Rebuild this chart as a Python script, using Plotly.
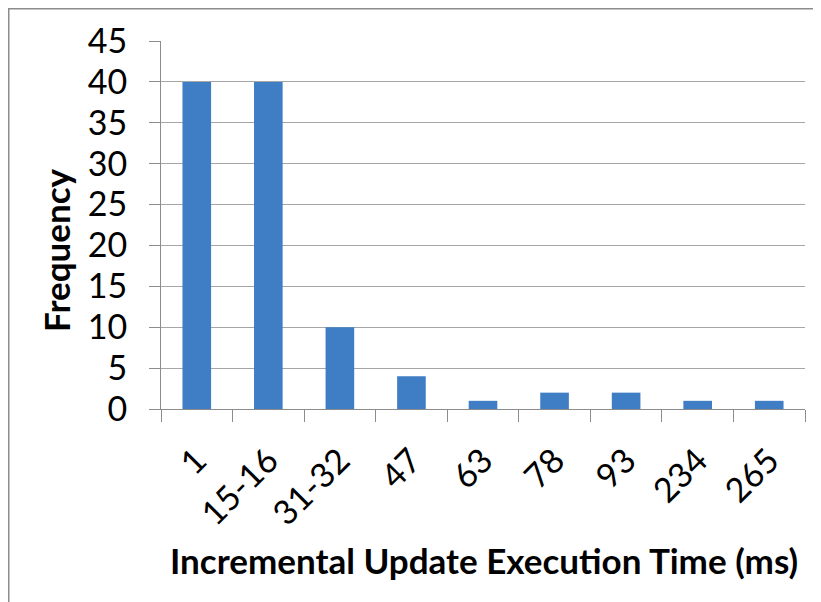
import plotly.graph_objects as go

categories = ["1", "15-16", "31-32", "47", "63", "78", "93", "234", "265"]
frequency = [40, 40, 10, 4, 1, 2, 2, 1, 1]
y_ticks = [0, 5, 10, 15, 20, 25, 30, 35, 40, 45]

# page body has an 8px margin, so figure coordinates are offset by 8
W, H = 813, 594
L, R, T, B = 153, 16, 33, 193
pw, ph = W - L - R, H - T - B

def px_x(v):
    return (v - L) / pw

def px_y(v):
    return (H - B - v) / ph

fig = go.Figure()
fig.add_trace(go.Bar(
    x=categories, y=frequency, width=0.4,
    marker=dict(color="#3f7ec4", line=dict(width=0)),
))

font = "Lato, Liberation Sans, Arial, sans-serif"
fig.update_layout(
    width=W, height=H,
    margin=dict(l=L, r=R, t=T, b=B),
    paper_bgcolor="white", plot_bgcolor="white",
    showlegend=False,
    font=dict(family=font, color="black"),
    xaxis=dict(
        type="category", tickson="boundaries",
        ticks="outside", ticklen=12, tickcolor="#8c8c8c", tickwidth=1,
        showline=True, linecolor="#8c8c8c", linewidth=1,
        tickangle=-45, tickfont=dict(size=34),
        showgrid=False, ticklabelstandoff=17,
    ),
    yaxis=dict(
        range=[0, 45], tickvals=y_ticks,
        ticks="outside", ticklen=11, tickcolor="#8c8c8c", tickwidth=1,
        showline=True, linecolor="#8c8c8c", linewidth=1,
        showgrid=True, gridcolor="#a6a6a6", gridwidth=1,
        tickfont=dict(size=34), ticklabelstandoff=15,
        zeroline=False,
    ),
    annotations=[
        dict(text="<b>Frequency</b>", xref="paper", yref="paper",
             x=px_x(48), y=px_y(242), textangle=-90, showarrow=False,
             font=dict(size=35, family=font), xanchor="center", yanchor="middle"),
        dict(text="<b>Incremental Update Execution Time (ms)</b>", xref="paper", yref="paper",
             x=px_x(476), y=px_y(552), showarrow=False,
             font=dict(size=35, family=font), xanchor="center", yanchor="middle"),
    ],
    shapes=[
        dict(type="rect", xref="paper", yref="paper",
             x0=px_x(0.75), x1=px_x(840), y0=px_y(620), y1=px_y(0.75),
             line=dict(color="#8c8c8c", width=1.5), fillcolor="rgba(0,0,0,0)", layer="below"),
    ],
)

fig.write_html("out.html")
